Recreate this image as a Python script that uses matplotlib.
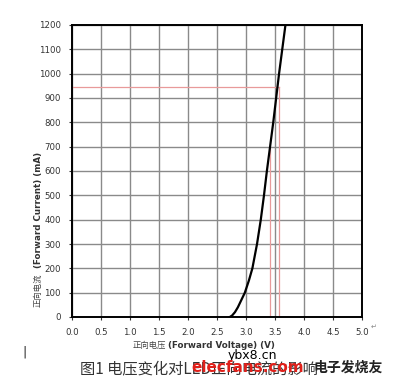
import matplotlib.pyplot as plt

# forward voltage (V) vs forward current (mA)
voltage = [2.72, 2.76, 2.81, 2.86, 2.91, 2.95, 2.98, 3.05, 3.11, 3.19, 3.255, 3.31, 3.36, 3.415, 3.47, 3.52, 3.57, 3.625, 3.68]
current = [0, 6, 20, 40, 65, 85, 100, 150, 200, 300, 400, 500, 600, 700, 800, 900, 1000, 1100, 1200]

# red marker lines
mark_current = 945
mark_v_high = 3.57
mark_v_low = 3.42
mark_low_top = 700

x_ticks = [0.0, 0.5, 1.0, 1.5, 2.0, 2.5, 3.0, 3.5, 4.0, 4.5, 5.0]
y_ticks = list(range(0, 1201, 100))

plt.rcParams['font.family'] = ['DejaVu Sans', 'Noto Sans CJK SC']

fig = plt.figure(figsize=(4.0, 3.85), dpi=100)
ax = fig.add_axes([72 / 400, 68 / 385, 290 / 400, 292 / 385])
ax.set_xlim(0, 5)
ax.set_ylim(0, 1200)
ax.set_xticks(x_ticks)
ax.set_xticklabels([f"{v:.1f}" for v in x_ticks])
ax.set_yticks(y_ticks)
ax.grid(True, color='#8a8a8a', linewidth=1.0)
ax.set_axisbelow(True)
for s in ax.spines.values():
    s.set_linewidth(1.4)
    s.set_color('black')
ax.tick_params(labelsize=6.2, colors='#333333', length=2, width=0.8, pad=6)

red = '#e89a9a'
ax.plot([0, mark_v_high], [mark_current, mark_current], color=red, lw=0.9, zorder=2)
ax.plot([mark_v_high, mark_v_high], [0, mark_current], color=red, lw=0.9, zorder=2)
ax.plot([mark_v_low, mark_v_low], [0, mark_low_top], color=red, lw=0.9, zorder=2)

ax.plot(voltage, current, color='black', lw=1.6, zorder=3,
        solid_joinstyle='round')

# axis labels (Chinese part plain, English part bold)
def px(x, y):
    return x / 400, 1 - y / 385

cjk = ['Noto Sans CJK SC', 'DejaVu Sans']
fig.text(*px(166, 345), "正向电压", ha='right', va='center', fontsize=6,
         family=cjk, color='#444444')
fig.text(*px(168, 345), "(Forward Voltage) (V)", ha='left', va='center',
         fontsize=6.3, fontweight='bold', color='#333333')
fig.text(*px(38, 290), "正向电流", ha='center', va='center', rotation=90,
         fontsize=6, family=cjk, color='#444444')
fig.text(*px(38, 210), "(Forward Current) (mA)", ha='center', va='center',
         rotation=90, fontsize=6.3, fontweight='bold', color='#333333')

# caption and page marks
fig.text(*px(80, 369), "图1 电压变化对LED正向电流的影响", ha='left', va='center',
         fontsize=11, family=cjk, color='#333333')
fig.text(*px(252, 355), "ybx8.cn", ha='center', va='center', fontsize=9,
         color='black')
fig.text(*px(248, 368), "elecfans.com", ha='center', va='center', fontsize=11,
         fontweight='bold', color='#e0201a')
fig.text(*px(348, 368), "电子发烧友", ha='center', va='center', fontsize=10,
         family=cjk, color='#222222', fontweight='bold')
fig.text(*px(25, 352), "|", ha='center', va='center', fontsize=9, color='#222222')
fig.text(*px(374, 327), "↵", ha='center', va='center', fontsize=5, color='#888888')

fig.savefig('out.png', dpi=100)
